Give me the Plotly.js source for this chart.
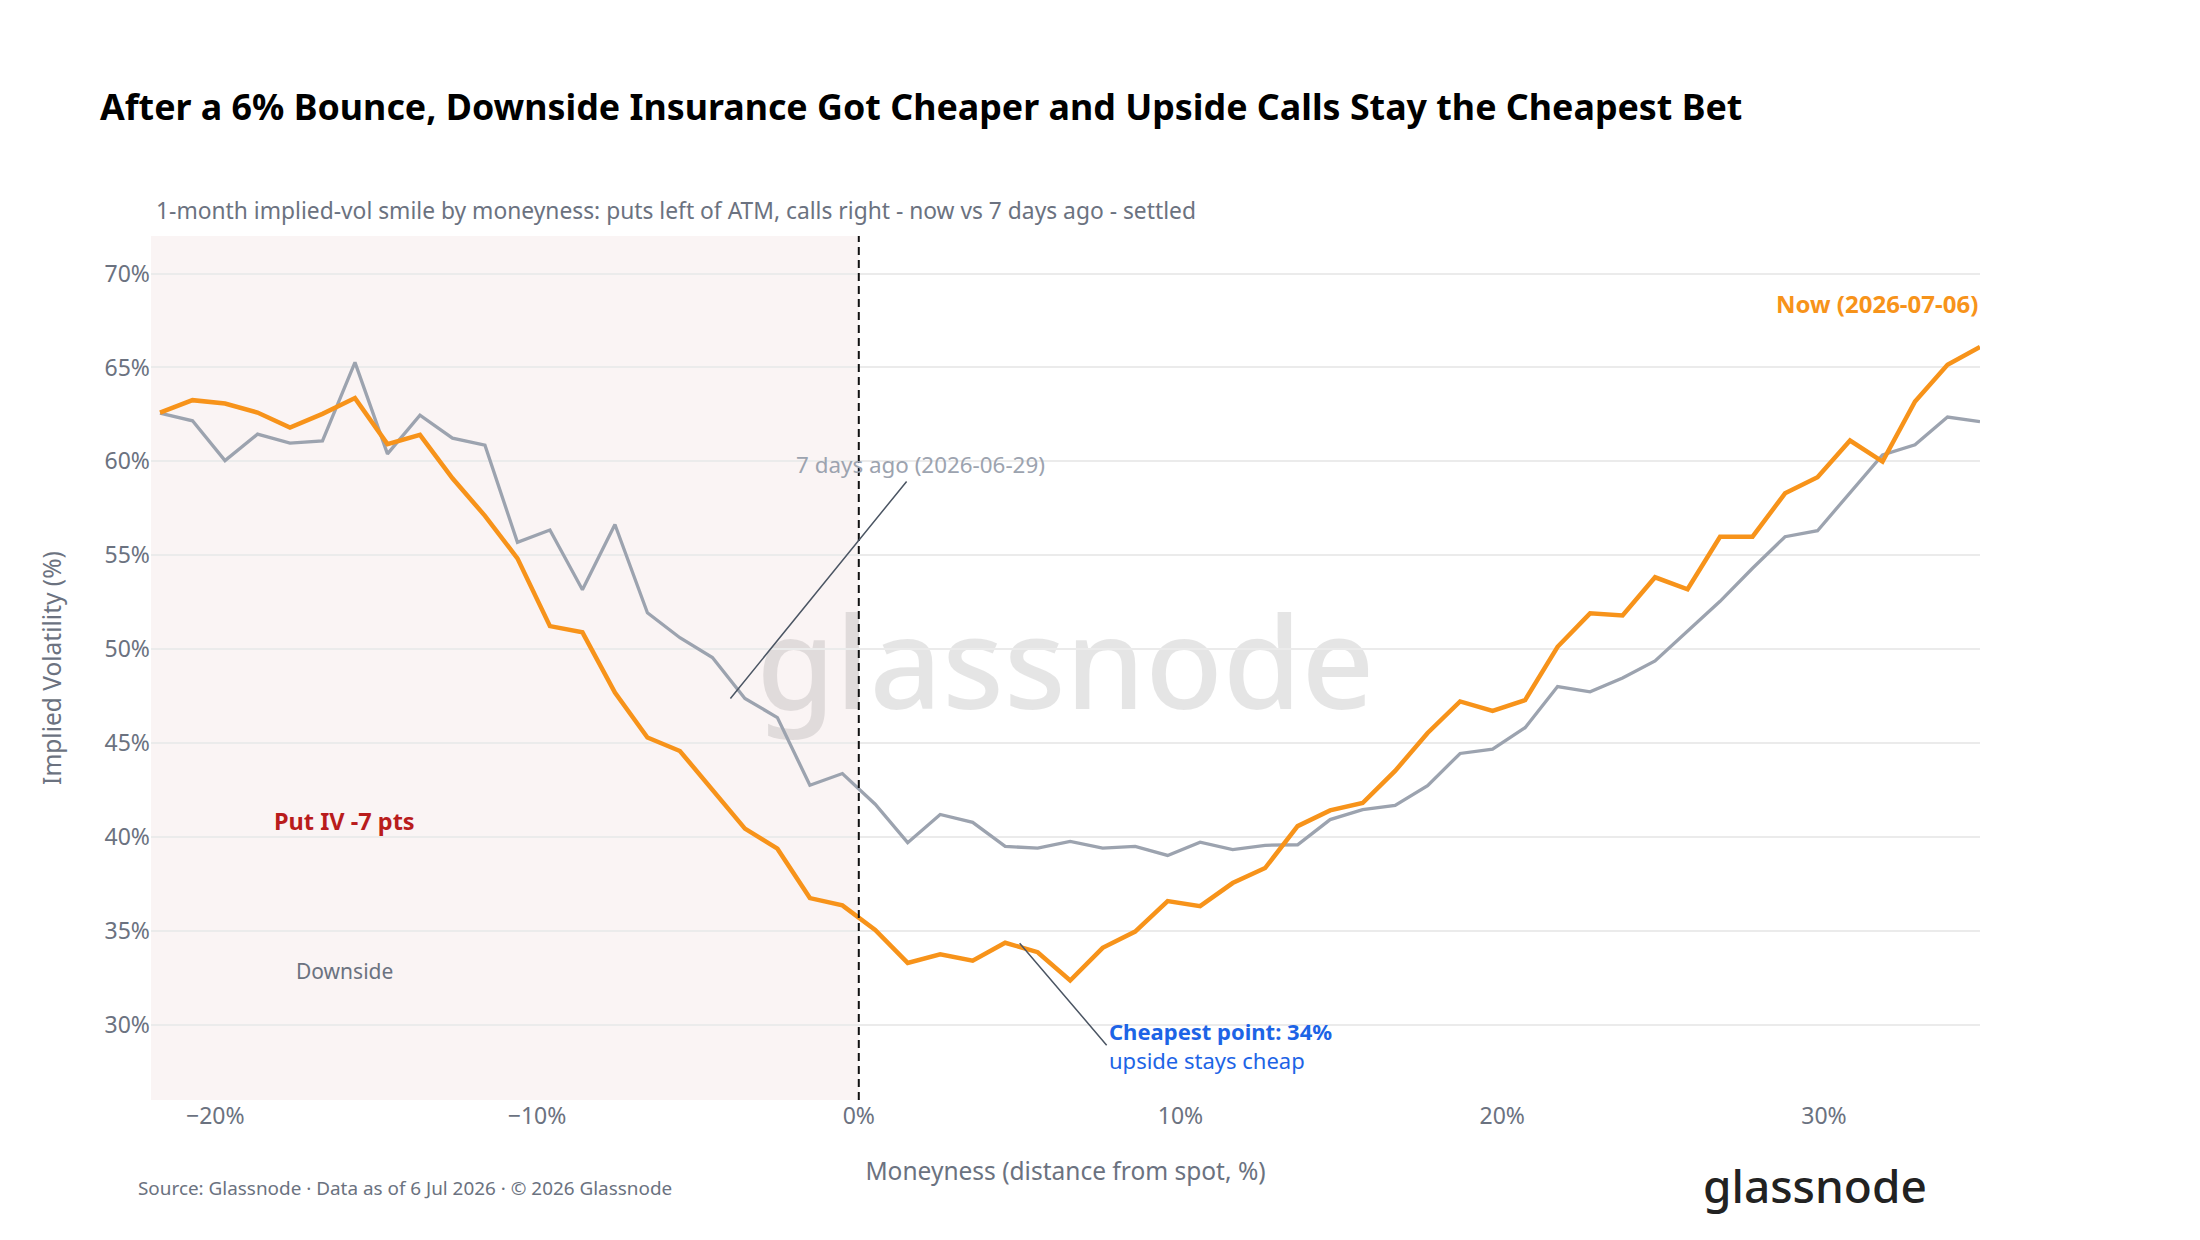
<!DOCTYPE html>
<html>
<head>
<meta charset="utf-8">
<script src="https://cdn.plot.ly/plotly-3.0.1.min.js"></script>
<style>
  html, body { margin: 0; padding: 0; background: #ffffff; }
  #chart { width: 2200px; height: 1240px; }
</style>
</head>
<body>
<div id="chart"></div>
<script>
// Moneyness (distance from spot, %)
const moneyness = [
  -21.72, -20.71, -19.70, -18.69, -17.68, -16.67, -15.66, -14.65, -13.64, -12.63,
  -11.62, -10.61, -9.60, -8.59, -7.58, -6.57, -5.56, -4.55, -3.54, -2.53,
  -1.52, -0.51, 0.51, 1.52, 2.53, 3.54, 4.55, 5.56, 6.57, 7.58,
  8.59, 9.60, 10.61, 11.62, 12.63, 13.64, 14.65, 15.66, 16.67, 17.68,
  18.69, 19.70, 20.71, 21.72, 22.73, 23.74, 24.75, 25.76, 26.77, 27.78,
  28.79, 29.80, 30.81, 31.82, 32.83, 33.84, 34.85
];

// Now (2026-07-06) implied vol, %
const ivNow = [
  62.60, 63.26, 63.08, 62.60, 61.80, 62.53, 63.37, 60.92, 61.41, 59.10,
  57.10, 54.84, 51.23, 50.90, 47.69, 45.30, 44.58, 42.51, 40.45, 39.38,
  36.75, 36.36, 35.05, 33.30, 33.76, 33.42, 34.37, 33.87, 32.36, 34.10,
  34.97, 36.59, 36.32, 37.55, 38.35, 40.58, 41.42, 41.81, 43.52, 45.54,
  47.22, 46.72, 47.29, 50.13, 51.91, 51.80, 53.83, 53.19, 55.99, 55.99,
  58.30, 59.16, 61.11, 59.99, 63.19, 65.14, 66.09
];

// 7 days ago (2026-06-29) implied vol, %
const iv7d = [
  62.57, 62.16, 60.04, 61.45, 60.97, 61.09, 65.27, 60.40, 62.46, 61.24,
  60.86, 55.69, 56.35, 53.17, 56.64, 51.94, 50.61, 49.56, 47.38, 46.36,
  42.76, 43.38, 41.75, 39.70, 41.20, 40.78, 39.50, 39.41, 39.77, 39.41,
  39.50, 39.02, 39.73, 39.33, 39.56, 39.59, 40.93, 41.46, 41.69, 42.74,
  44.45, 44.68, 45.82, 48.01, 47.73, 48.47, 49.38, 50.95, 52.55, 54.31,
  55.99, 56.31, 58.30, 60.35, 60.88, 62.36, 62.12
];

const xTickVals = [-20, -10, 0, 10, 20, 30];
const xTickText = ['\u221220%', '\u221210%', '0%', '10%', '20%', '30%'];
const yTickVals = [30, 35, 40, 45, 50, 55, 60, 65, 70];
const yTickText = ['30%', '35%', '40%', '45%', '50%', '55%', '60%', '65%', '70%'];

const FONT = '"Noto Sans", "Open Sans", sans-serif';
const GRAY_TXT = '#6b7280';
const ORANGE = '#f7931a';
const GRAY_LINE = '#9ca3af';
const BLUE = '#1d64e6';

const traces = [
  {
    x: moneyness, y: iv7d, type: 'scatter', mode: 'lines',
    name: '7 days ago (2026-06-29)',
    line: { color: GRAY_LINE, width: 3.3 },
    hoverinfo: 'skip'
  },
  {
    x: moneyness, y: ivNow, type: 'scatter', mode: 'lines',
    name: 'Now (2026-07-06)',
    line: { color: ORANGE, width: 4.5 },
    hoverinfo: 'skip'
  }
];

const layout = {
  width: 2200, height: 1240,
  paper_bgcolor: '#ffffff', plot_bgcolor: '#ffffff',
  margin: { l: 151, r: 220, t: 236, b: 140, pad: 0 },
  showlegend: false,
  font: { family: FONT, color: GRAY_TXT, size: 20 },
  title: {
    text: '<b>After a 6% Bounce, Downside Insurance Got Cheaper and Upside Calls Stay the Cheapest Bet</b>',
    font: { family: FONT, size: 35.8, color: '#000000' },
    xref: 'container', yref: 'container',
    x: 100 / 2200, xanchor: 'left',
    y: 1 - 107 / 1240, yanchor: 'middle'
  },
  xaxis: {
    range: [-22, 34.85],
    tickmode: 'array',
    tickvals: xTickVals,
    ticktext: xTickText,
    showgrid: false, zeroline: false, showline: false,
    ticks: '',
    tickfont: { family: FONT, size: 23, color: GRAY_TXT },
    title: { text: 'Moneyness (distance from spot, %)', font: { family: FONT, size: 24.5, color: GRAY_TXT }, standoff: 32 },
    fixedrange: true
  },
  yaxis: {
    range: [26, 72],
    tickmode: 'array',
    tickvals: yTickVals,
    ticktext: yTickText,
    showgrid: true, gridcolor: '#ebebeb', gridwidth: 2,
    zeroline: false, showline: false,
    ticks: '',
    tickfont: { family: FONT, size: 23, color: GRAY_TXT },
    title: { text: 'Implied Volatility (%)', font: { family: FONT, size: 24.5, color: GRAY_TXT }, standoff: 35 },
    fixedrange: true
  },
  shapes: [
    {
      type: 'rect', xref: 'x', yref: 'paper', x0: -22, x1: 0, y0: 0, y1: 1,
      fillcolor: 'rgb(250,244,244)', line: { width: 0 }, layer: 'below'
    },
    {
      type: 'rect', xref: 'paper', yref: 'paper', x0: 0, x1: 1, y0: 0, y1: 1,
      fillcolor: 'rgba(0,0,0,0)', line: { width: 0 }, layer: 'below',
      label: {
        text: 'glassnode', textposition: 'middle center',
        font: { family: FONT, size: 127, color: 'rgba(0,0,0,0.10)', weight: 500 }
      }
    },
    {
      type: 'line', xref: 'x', yref: 'paper', x0: 0, x1: 0, y0: 0, y1: 1,
      line: { color: '#111111', width: 2, dash: '8px,5px' }, layer: 'above'
    }
  ],
  annotations: [
    {
      xref: 'paper', yref: 'paper', x: 3 / 1829, y: (1100 - 210) / 864,
      xanchor: 'left', yanchor: 'middle', showarrow: false,
      text: '1-month implied-vol smile by moneyness: puts left of ATM, calls right - now vs 7 days ago - settled',
      font: { family: FONT, size: 22.8, color: GRAY_TXT }
    },
    {
      xref: 'x', yref: 'y', x: 34.85, y: 68.43, xanchor: 'right', yanchor: 'middle',
      showarrow: false, text: '<b>Now (2026-07-06)</b>',
      font: { family: FONT, size: 24, color: ORANGE }
    },
    {
      xref: 'x', yref: 'y', x: -3.99, y: 47.38,
      ax: 190, ay: -234, axref: 'pixel', ayref: 'pixel',
      showarrow: true, arrowhead: 0, arrowwidth: 1.5, arrowcolor: '#4b5563',
      text: '7 days ago (2026-06-29)',
      font: { family: FONT, size: 22.4, color: GRAY_LINE }
    },
    {
      xref: 'x', yref: 'y', x: 5.0, y: 34.35,
      ax: 87, ay: 102, axref: 'pixel', ayref: 'pixel',
      xanchor: 'left', yanchor: 'middle', align: 'left',
      showarrow: true, arrowhead: 0, arrowwidth: 1.5, arrowcolor: '#4b5563',
      text: '<b>Cheapest point: 34%</b><br>upside stays cheap',
      font: { family: FONT, size: 22, color: BLUE }
    },
    {
      xref: 'x', yref: 'y', x: -16.0, y: 40.86, xanchor: 'center', yanchor: 'middle',
      showarrow: false, text: '<b>Put IV -7 pts</b>',
      font: { family: FONT, size: 23.5, color: '#b91c1c' }
    },
    {
      xref: 'x', yref: 'y', x: -16.0, y: 32.86, xanchor: 'center', yanchor: 'middle',
      showarrow: false, text: 'Downside',
      font: { family: FONT, size: 21, color: GRAY_TXT }
    },
    {
      xref: 'paper', yref: 'paper', x: (136 - 151) / 1829, y: (1100 - 1188) / 864,
      xanchor: 'left', yanchor: 'middle', showarrow: false,
      text: 'Source: Glassnode · Data as of 6 Jul 2026 · © 2026 Glassnode',
      font: { family: FONT, size: 18.9, color: GRAY_TXT }
    },
    {
      xref: 'paper', yref: 'paper', x: (1815 - 151) / 1829, y: (1100 - 1185) / 864,
      xanchor: 'center', yanchor: 'middle', showarrow: false,
      text: 'glassnode',
      font: { family: FONT, size: 46, color: '#222222', weight: 500 }
    }
  ]
};

Plotly.newPlot('chart', traces, layout, { displayModeBar: false, staticPlot: true });
</script>
</body>
</html>
